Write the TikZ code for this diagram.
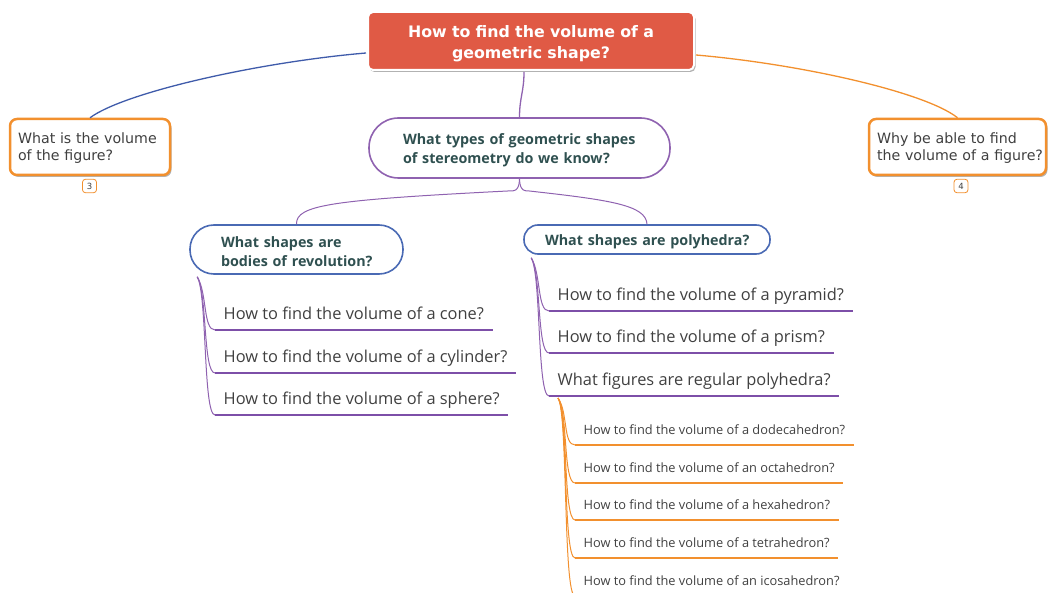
\documentclass[tikz,border=0pt]{standalone}
\usepackage{fontspec}
\setmainfont{Open Sans}
\newfontfamily\dvsans{DejaVu Sans}
\usetikzlibrary{shadows,calc}
\definecolor{rootred}{HTML}{E05A45}
\definecolor{orng}{HTML}{F2902E}
\definecolor{purp}{HTML}{8F62B0}
\definecolor{ulpurp}{HTML}{7D4FA8}
\definecolor{blu}{HTML}{4A6AB4}
\definecolor{bluline}{HTML}{3F5BAA}
\definecolor{ttext}{HTML}{2F5050}
\definecolor{gtext}{HTML}{404040}
\newcommand\Lb[1]{\mbox{#1}}
\begin{document}
\begin{tikzpicture}[x=1pt,y=-1pt,
  shad/.style={drop shadow={shadow xshift=1.5pt,shadow yshift=-2pt,opacity=0.3,fill=black}},
  rootbox/.style={draw=white,line width=2pt,fill=rootred,rounded corners=5pt,
    minimum width=326pt,minimum height=58pt,inner sep=0pt,text=white,align=center,
    text width=310pt,text height=18pt,
    font=\dvsans\bfseries\fontsize{15.8}{21}\selectfont,shad},
  sidebox/.style={draw=orng,line width=2.5pt,fill=white,rounded corners=7pt,
    minimum height=56pt,inner xsep=8pt,inner ysep=0pt,align=left,text=gtext,
    text height=13pt,
    font=\dvsans\fontsize{14.2}{17}\selectfont,shad},
  badge/.style={draw=orng,line width=0.8pt,fill=white,rounded corners=3pt,
    minimum width=14pt,minimum height=13.5pt,inner sep=0pt,text=gtext,
    font=\dvsans\fontsize{8.5}{9}\selectfont},
  pillbox/.style={fill=white,line width=1.6pt,inner ysep=0pt,align=left,text=ttext,
    text height=15pt,
    font=\bfseries\fontsize{14.3}{19}\selectfont},
  bigitem/.style={anchor=south west,inner xsep=8.5pt,inner ysep=6.3pt,text depth=4pt,
    text=gtext,font=\fontsize{16.4}{19}\selectfont},
  smallitem/.style={anchor=south west,inner xsep=8.5pt,inner ysep=7pt,text depth=3pt,
    text=gtext,font=\fontsize{12.8}{15}\selectfont},
  purpul/.style={draw=ulpurp,line width=2.6pt},
  orngul/.style={draw=orng,line width=2.3pt},
  purpcon/.style={draw=purp,line width=1pt},
  orngcon/.style={draw=orng,line width=1pt}
]
\useasboundingbox (0,0) rectangle (1048,593);
\clip (0,0) rectangle (1048,593);

% main nodes
\node[rootbox] (root) at (531,41) {How to find the volume of a\\geometric shape?};
\node[sidebox,minimum width=160pt,text width=144pt] (lbox) at (90,147)
  {\Lb{What is the volume}\\\Lb{of the figure?}};
\node[sidebox,minimum width=177pt,text width=161pt] (rbox) at (957.5,147)
  {\Lb{Why be able to find}\\\Lb{the volume of a figure?}};
\node[badge] (b3) at (89.5,186) {3};
\node[badge] (b4) at (961,186) {4};

\node[pillbox,draw=purp,minimum width=301pt,minimum height=60pt,rounded corners=29.5pt,
  inner xsep=34pt,text width=233pt] (types) at (519.5,148)
  {\Lb{What types of geometric shapes}\\\Lb{of stereometry do we know?}};
\node[pillbox,draw=blu,minimum width=213pt,minimum height=49pt,rounded corners=24pt,
  inner xsep=31pt,text width=151pt] (bodies) at (296.5,249.5)
  {\Lb{What shapes are}\\\Lb{bodies of revolution?}};
\node[pillbox,draw=blu,minimum width=246pt,minimum height=29pt,rounded corners=14pt,
  inner xsep=21pt,text width=204pt] (poly) at (647,239.5)
  {\Lb{What shapes are polyhedra?}};

% items
\node[bigitem] (cone) at (215,330) {How to find the volume of a cone?};
\node[bigitem] (cyl) at (215,373) {How to find the volume of a cylinder?};
\node[bigitem] (sph) at (215,415) {How to find the volume of a sphere?};
\node[bigitem] (pyr) at (549,311) {How to find the volume of a pyramid?};
\node[bigitem] (prism) at (549,353) {How to find the volume of a prism?};
\node[bigitem] (reg) at (549,396) {What figures are regular polyhedra?};
\node[smallitem] (dod) at (575,445) {How to find the volume of a dodecahedron?};
\node[smallitem] (oct) at (575,483) {How to find the volume of an octahedron?};
\node[smallitem] (hex) at (575,520) {How to find the volume of a hexahedron?};
\node[smallitem] (tet) at (575,558) {How to find the volume of a tetrahedron?};
\node[smallitem] (ico) at (575,596) {How to find the volume of an icosahedron?};

% underlines
\foreach \n in {cone,cyl,sph,pyr,prism,reg}
  \draw[purpul] (\n.south west) -- (\n.south east);
\foreach \n in {dod,oct,hex,tet,ico}
  \draw[orngul] (\n.south west) -- (\n.south east);

% root connectors
\draw[draw=bluline,line width=1.3pt] ($(root.west)+(-1,12)$)
  .. controls (260,62) and (125,92) .. (lbox.north);
\draw[draw=orng,line width=1.3pt] ($(root.east)+(1,14)$)
  .. controls (800,64) and (925,92) .. (rbox.north);
\draw[draw=purp,line width=1.3pt] ($(root.south)+(-7,1)$)
  .. controls +(0,20) and +(0,-20) .. (types.north);

% types -> children
\draw[purpcon] (types.south) .. controls +(0,14) and +(0,0) .. ($(types.south)+(-8,12)$)
  .. controls (330,200) and (296,205) .. (bodies.north);
\draw[purpcon] (types.south) .. controls +(0,14) and +(0,0) .. ($(types.south)+(8,12)$)
  .. controls (610,200) and (646,205) .. (poly.north);

% bodies -> items
\coordinate (bp) at ($(bodies.south west)+(8,2)$);
\foreach \n in {cone,cyl,sph}
  \draw[purpcon] (bp) .. controls +(10,16) and +(-12,0) .. (\n.south west);
\coordinate (pp) at ($(poly.south west)+(8,3)$);
\foreach \n in {pyr,prism,reg}
  \draw[purpcon] (pp) .. controls +(10,16) and +(-12,0) .. (\n.south west);
\coordinate (rp) at ($(reg.south west)+(9,2)$);
\foreach \n in {dod,oct,hex,tet,ico}
  \draw[orngcon] (rp) .. controls +(10,14) and +(-12,0) .. (\n.south west);
\end{tikzpicture}
\end{document}
